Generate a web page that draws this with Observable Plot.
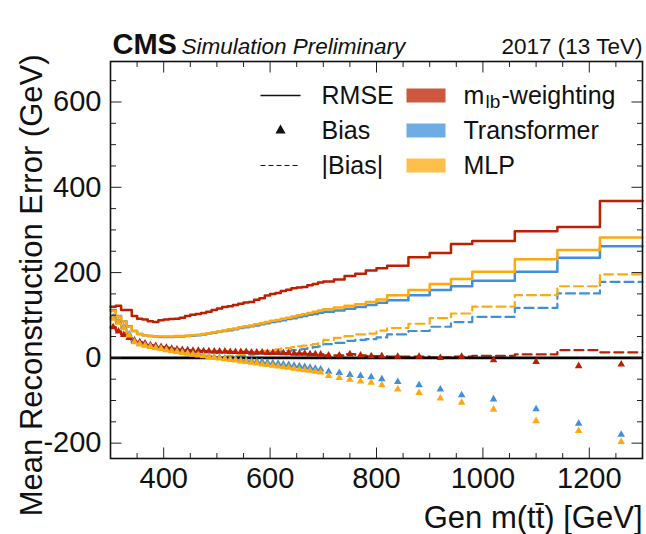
<!DOCTYPE html>
<html>
<head>
<meta charset="utf-8">
<script src="https://cdn.jsdelivr.net/npm/d3@7"></script>
<script src="https://cdn.jsdelivr.net/npm/@observablehq/plot@0.6"></script>
<style>
  html, body { margin: 0; padding: 0; background: #fff; }
  #chart svg { display: block; }
</style>
</head>
<body>
<div id="chart"></div>
<script>
// ---------------- data ----------------
const binEdges = [300,310,320,330,340,350,360,370,380,390,400,410,420,430,440,450,460,470,480,490,
  500,510,520,530,540,550,560,570,580,590,600,610,620,630,640,650,660,670,680,690,700,
  720,740,760,780,800,820,860,900,940,980,1060,1140,1220,1300];
const binCenters = [305,315,325,335,345,355,365,375,385,395,405,415,425,435,445,455,465,475,485,495,
  505,515,525,535,545,555,565,575,585,595,605,615,625,635,645,655,665,675,685,695,
  710,730,750,770,790,810,840,880,920,960,1020,1100,1180,1260];

const models = ["mlb-weighting", "Transformer", "MLP"];

const rmseMlb = [120,122,112,112,98,92,90,86,84,88, 90,91,92,94,98,101,103,105,108,112,
  116,119,121,124,127,130,131,136,140,146, 150,152,157,160,163,165,166,170,173,177,
  179,184,192,197,205,210, 216,236,246,267, 274,297,307,368];
const rmseTransformer = [112,98,86,74,63,56,53,51,50,49, 49,49,50,50,51,52,53,55,57,59,
  61,63,65,67,70,72,74,76,79,81, 84,86,88,91,93,96,98,101,103,106,
  108,111,115,119,124,129, 135,147,159,168, 181,202,235,262];
const rmseMLP = [110,97,85,73,63,56,53,51,50,50, 50,50,51,51,52,53,54,56,58,60,
  62,64,67,69,72,74,76,79,81,84, 87,89,92,94,97,100,102,105,108,111,
  114,118,122,126,131,137, 147,159,173,185, 202,231,253,282];

const biasMlb = [72,62,54,47,41,37,34,30,28,26, 24,22,20,19,18,17,17,16,16,15,
  15,15,14,14,14,14,13,13,13,12, 12,12,11,11,10,10,10,9,9,8,
  6,6,9,6,4,4, 3,3,0,3, -5,-9,-19,-15];
const biasTransformer = [95,85,72,55,38,33,30,27,24,22, 19,17,15,13,11,9,7,5,3.5,2,
  0.5,-1,-2.5,-3.5,-5,-6,-7.5,-8.5,-9.5,-11, -12,-13.5,-15,-16.5,-18,-19.5,-21,-23,-25,-27,
  -32,-35,-40,-42,-45,-50, -56,-64,-74,-87.5, -97,-120,-154,-180];
const biasMLP = [92,83,70,53,37,32,29,26,23,21, 18,16,14,12,10,8,6,4,2,0.5,
  -1,-3,-4.5,-6,-8,-9.5,-11,-13,-15,-16.5, -18,-20,-21.5,-23,-25,-27,-28.5,-30,-32,-34,
  -42,-47,-51,-55,-58,-64, -74,-82,-95,-105, -121,-148,-171,-197];

const absBiasMlb = [72,62,54,47,41,37,34,30,28,26, 24,22,20,19,18,17,17,16,16,15,
  15,15,14,14,14,14,13,13,13,12, 12,12,11,11,10,10,10,9,9,8,
  6,6,9,6,4,4, 3,3,1,3, 5,8,18,13];
const absBiasTransformer = [95,85,72,55,38,33,30,27,24,22, 19,17,15,13,11,9,7,5,3.5,2,
  0.5,1,2.5,3.5,5,6,7.5,8.5,9.5,11, 12,13.5,15,16.5,18,19.5,21,23,25,27,
  32,35,40,42,44,48, 55,63,73,84, 96,117,151,178];
const absBiasMLP = [92,83,70,53,37,32,29,26,23,21, 18,16,14,12,10,8,6,4,2,0.5,
  1,3,4.5,6,8,9.5,11,13,15,16.5, 18,20,21.5,23,25,27,28.5,30,32,34,
  42,47,51,55,57,64, 70,80,93,104, 120,147,168,196];

const xMajorTicks = [400, 600, 800, 1000, 1200];
const xMinorTicks = [300,350,450,500,550,650,700,750,850,900,950,1050,1100,1150,1250,1300];
const yMajorTicks = [-200, 0, 200, 400, 600];
const yMinorTicks = [-150,-100,-50,50,100,150,250,300,350,450,500,550,650];

// ---------------- styles ----------------
const lineColors = ["#bd1f01", "#3f90da", "#ffa90e"];
const FONT = "'Liberation Sans', Arial, Helvetica, sans-serif";

// ---------------- tables built from the arrays ----------------
function stepRows(values, model) {
  const rows = values.map((v, i) => ({x: binEdges[i], y: v, model}));
  rows.push({x: binEdges[binEdges.length - 1], y: values[values.length - 1], model});
  return rows;
}
const rmseRows = [
  ...stepRows(rmseMlb, models[0]),
  ...stepRows(rmseTransformer, models[1]),
  ...stepRows(rmseMLP, models[2])
];
const absRows = [
  ...stepRows(absBiasMlb, models[0]),
  ...stepRows(absBiasTransformer, models[1]),
  ...stepRows(absBiasMLP, models[2])
];
const biasRows = [
  ...biasMlb.map((v, i) => ({x: binCenters[i], y: v, model: models[0]})),
  ...biasTransformer.map((v, i) => ({x: binCenters[i], y: v, model: models[1]})),
  ...biasMLP.map((v, i) => ({x: binCenters[i], y: v, model: models[2]}))
];

const tickShape = {draw(context, l) { context.moveTo(0, 0); context.lineTo(0, -l); }};

function ticks(data, side, len) {
  const opts = {anchor: "start", length: len, shape: tickShape, stroke: "#222", strokeWidth: 1, strokeLinecap: "butt"};
  if (side === "bottom") return Plot.vector(data, {...opts, x: d => d, frameAnchor: "bottom", rotate: 0});
  if (side === "top") return Plot.vector(data, {...opts, x: d => d, frameAnchor: "top", rotate: 180});
  if (side === "left") return Plot.vector(data, {...opts, y: d => d, frameAnchor: "left", rotate: 90});
  return Plot.vector(data, {...opts, y: d => d, frameAnchor: "right", rotate: 270});
}

function legendText(label, dx, dy, extra = {}) {
  return Plot.text([label], {text: d => d, frameAnchor: "top-left", dx, dy, textAnchor: "start",
    lineAnchor: "middle", fontSize: 25, fill: "#111", ...extra});
}
function legendPatch(color, dy) {
  return Plot.vector([0], {frameAnchor: "top-left", dx: 296, dy, rotate: 90, length: 39, anchor: "start",
    shape: tickShape, stroke: color, strokeOpacity: 0.75, strokeWidth: 14, strokeLinecap: "butt"});
}

const chart = Plot.plot({
  width: 646,
  height: 534,
  marginLeft: 110,
  marginRight: 4,
  marginTop: 61,
  marginBottom: 76,
  style: {fontFamily: FONT, color: "#111", background: "#fff"},
  x: {domain: [300, 1300]},
  y: {domain: [-236, 695]},
  color: {domain: models, range: lineColors},
  marks: [
    // data
    Plot.line(absRows, {x: "x", y: "y", z: "model", stroke: "model", curve: "step-after",
      strokeWidth: 2.2, strokeDasharray: "9,5"}),
    Plot.line(rmseRows, {x: "x", y: "y", z: "model", stroke: "model", curve: "step-after", strokeWidth: 2.5}),
    Plot.ruleY([0], {stroke: "#000", strokeWidth: 2.6}),
    Plot.dot(biasRows, {x: "x", y: "y", fill: "model", symbol: "triangle", r: 2.8}),
    // axes (ticks inside the frame)
    ticks(xMajorTicks, "bottom", 11), ticks(xMinorTicks, "bottom", 5.5),
    ticks(xMajorTicks, "top", 11), ticks(xMinorTicks, "top", 5.5),
    ticks(yMajorTicks, "left", 11), ticks(yMinorTicks, "left", 5.5),
    ticks(yMajorTicks, "right", 11), ticks(yMinorTicks, "right", 5.5),
    Plot.axisX(xMajorTicks, {tickSize: 0, tickPadding: 9, fontSize: 29, tickFormat: d => String(d), label: null}),
    Plot.axisY(yMajorTicks, {tickSize: 0, tickPadding: 9, fontSize: 29, tickFormat: d => String(d), label: null}),
    Plot.frame({stroke: "#111", strokeWidth: 1.6}),
    // axis titles
    Plot.text(["Gen m(t\u0074\u0304) [GeV]"], {text: d => d, frameAnchor: "bottom-right", textAnchor: "end",
      lineAnchor: "bottom", dy: 69, fontSize: 31, fill: "#111"}),
    Plot.text(["Mean Reconstruction Error (GeV)"], {text: d => d, frameAnchor: "top-left", rotate: -90,
      textAnchor: "end", lineAnchor: "bottom", dx: -69, dy: -7, fontSize: 31, fill: "#111"}),
    // header
    Plot.text(["CMS"], {text: d => d, frameAnchor: "top-left", dx: 2, dy: -8, textAnchor: "start",
      lineAnchor: "bottom", fontSize: 29, fontWeight: "bold", fill: "#111"}),
    Plot.text(["Simulation Preliminary"], {text: d => d, frameAnchor: "top-left", dx: 71, dy: -8,
      textAnchor: "start", lineAnchor: "bottom", fontSize: 22.5, fontStyle: "italic", fill: "#111"}),
    Plot.text(["2017 (13 TeV)"], {text: d => d, frameAnchor: "top-right", dx: 0, dy: -8,
      textAnchor: "end", lineAnchor: "bottom", fontSize: 22.5, fill: "#111"}),
    // legend
    Plot.vector([0], {frameAnchor: "top-left", dx: 150, dy: 34, rotate: 90, length: 40, anchor: "start",
      shape: tickShape, stroke: "#111", strokeWidth: 1.3, strokeLinecap: "butt"}),
    Plot.dot([0], {frameAnchor: "top-left", dx: 170, dy: 69, symbol: "triangle", r: 3.8, fill: "#111"}),
    Plot.vector([0], {frameAnchor: "top-left", dx: 150, dy: 104, rotate: 90, length: 40, anchor: "start",
      shape: tickShape, stroke: "#111", strokeWidth: 1.1, strokeDasharray: "5,3", strokeLinecap: "butt"}),
    legendText("RMSE", 211, 34),
    legendText("Bias", 211, 69),
    legendText("|Bias|", 211, 104),
    legendPatch(lineColors[0], 34),
    legendPatch(lineColors[1], 69),
    legendPatch(lineColors[2], 104),
    legendText("m", 353, 34),
    legendText("lb", 375, 40, {fontSize: 19}),
    legendText("-weighting", 391, 34),
    legendText("Transformer", 353, 69),
    legendText("MLP", 353, 104)
  ]
});
document.getElementById("chart").append(chart);
</script>
</body>
</html>
